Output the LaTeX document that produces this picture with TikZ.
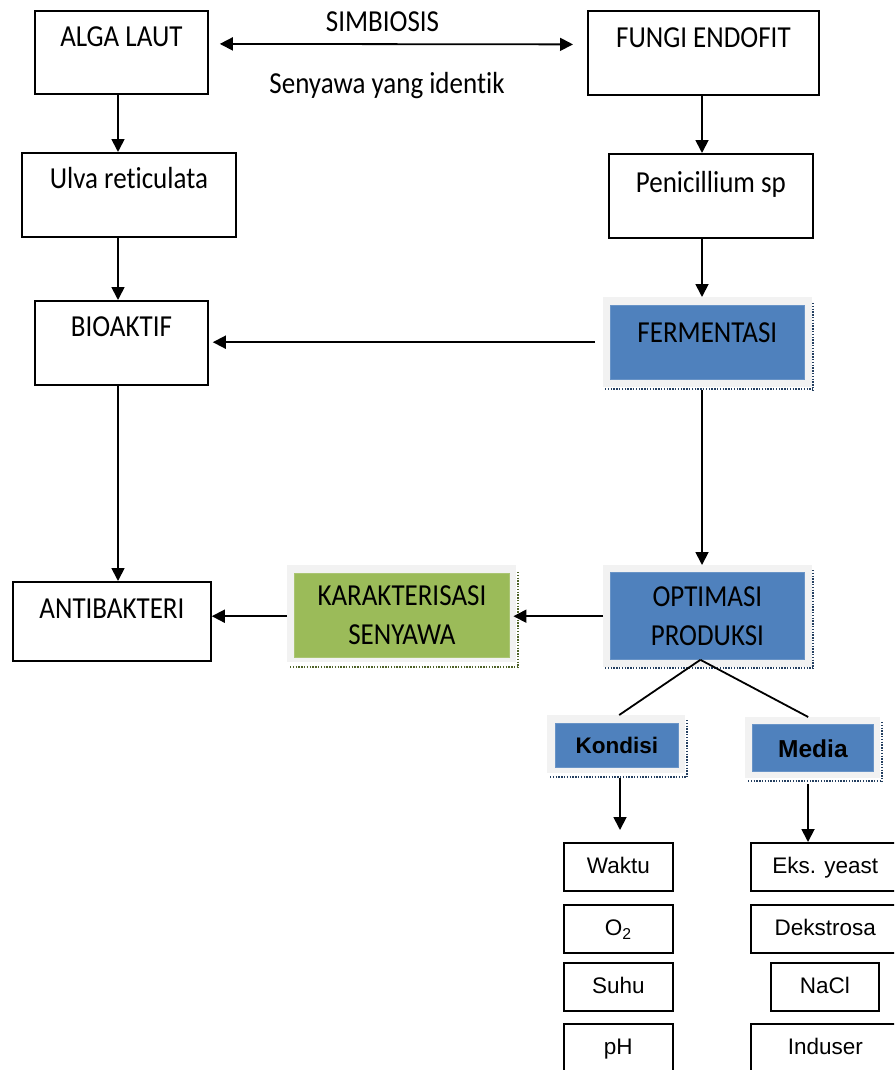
\documentclass[tikz,border=0pt]{standalone}
\usepackage{fontspec}
\setmainfont{Carlito}[RawFeature={-liga}]
\newfontfamily\arialf{Liberation Sans}
\usepackage{graphicx}
\usetikzlibrary{arrows.meta,calc}
\newcommand{\stt}[1]{\scalebox{1}[1.13]{#1}}
\definecolor{sblue}{HTML}{4F81BD}
\definecolor{sgray}{HTML}{F2F2F2}
\definecolor{sgreen}{HTML}{9BBB59}
\definecolor{dblue}{HTML}{243F60}
\definecolor{dgreen}{HTML}{4F6228}
\tikzset{
  cal/.style={font=\fontsize{27}{39}\selectfont},
  plainbox/.style={draw, line width=1.8pt, inner sep=0pt, anchor=north west, cal, align=center},
  shadowbg/.style={fill=sgray, draw=none, inner sep=0pt, anchor=north west},
  bluebox/.style={fill=sblue, draw=sblue!85!white, line width=0.8pt, inner sep=0pt, anchor=north west, align=center},
  greenbox/.style={fill=sgreen, draw=sgreen!85!white, line width=0.8pt, inner sep=0pt, anchor=north west, align=center},
  dotline/.style={line width=2.8pt, dash pattern=on 1.4pt off 1.4pt},
  smallbox/.style={draw, line width=1.6pt, inner sep=0pt, anchor=north west, text height=31pt, text depth=17pt, font=\arialf\fontsize{22.5}{26}\selectfont},
  conn/.style={line width=1.8pt},
  arr/.style={conn, -{Triangle[length=13pt,width=13pt]}},
  darr/.style={conn, {Triangle[length=13pt,width=13pt]}-{Triangle[length=13pt,width=13pt]}}
}
\begin{document}
\begin{tikzpicture}[x=1pt,y=-1pt]
\clip (0,0) rectangle (894,1070);
\fill[white] (0,0) rectangle (894,1070);

% plain boxes
\node[plainbox, minimum width=173pt, text height=36pt, text depth=47pt] (alga) at (34,10) {\stt{ALGA LAUT}};
\node[plainbox, minimum width=231pt, text height=37pt, text depth=47pt] (fungi) at (587,10) {\stt{FUNGI ENDOFIT}};
\node[plainbox, minimum width=214pt, text height=36pt, text depth=48pt] (ulva) at (21,152) {\stt{Ulva reticulata}};
\node[plainbox, minimum width=204pt, text height=39pt, text depth=45pt] (peni) at (608,153) {\stt{Penicillium sp}};
\node[plainbox, minimum width=173pt, text height=36pt, text depth=48pt] (bio) at (34,300) {\stt{BIOAKTIF}};
\node[plainbox, minimum width=198pt, text height=37pt, text depth=42pt] (anti) at (12,581) {\stt{ANTIBAKTERI}};

% labels
\node[cal, anchor=base, inner sep=0pt] (simb) at (382.5,32) {\stt{SIMBIOSIS}};
\node[cal, anchor=base, inner sep=0pt] (seny) at (387,94) {\stt{Senyawa yang identik}};

% FERMENTASI
\node[shadowbg, minimum width=209pt, minimum height=90pt] (fermout) at (603,297) {};
\draw[dotline, dblue] (813,303) -- (813,390);
\draw[dotline, dblue] (605,389) -- (813,389);
\node[bluebox, cal, minimum width=194pt, text height=37pt, text depth=37pt] (ferm) at (610,305) {\stt{FERMENTASI}};

% OPTIMASI PRODUKSI
\node[shadowbg, minimum width=209pt, minimum height=102pt] (optout) at (603,565) {};
\draw[dotline, dblue] (813,570) -- (813,669);
\draw[dotline, dblue] (605,668) -- (813,668);
\node[bluebox, cal, minimum width=194pt, minimum height=87pt] (opt) at (610,572) {\stt{OPTIMASI}\\\stt{PRODUKSI}};

% KARAKTERISASI SENYAWA
\node[shadowbg, minimum width=229pt, minimum height=97pt] (karout) at (287,565) {};
\draw[dotline, dgreen] (518,572) -- (518,668);
\draw[dotline, dgreen] (290,667) -- (518,667);
\node[greenbox, cal, minimum width=215pt, minimum height=84pt] (kar) at (294,573) {\stt{KARAKTERISASI}\\\stt{SENYAWA}};

% Kondisi
\node[shadowbg, minimum width=138pt, minimum height=58pt] (konout) at (547,715) {};
\draw[dotline, dblue] (687,720) -- (687,778);
\draw[dotline, dblue] (550,777) -- (687,777);
\node[bluebox, minimum width=123pt, text height=30pt, text depth=14pt, font=\arialf\bfseries\fontsize{22.5}{26}\selectfont] (kon) at (555,723) {Kondisi};

% Media
\node[shadowbg, minimum width=135pt, minimum height=61pt] (medout) at (745,717) {};
\draw[dotline, dblue] (882,722) -- (882,782);
\draw[dotline, dblue] (748,781) -- (882,781);
\node[bluebox, minimum width=121pt, text height=33pt, text depth=14pt, font=\arialf\bfseries\fontsize{24.5}{28}\selectfont] (med) at (752,724) {Media};

% small boxes
\node[smallbox, minimum width=109pt] (waktu) at (563,842) {Waktu};
\node[smallbox, minimum width=109pt] (o2) at (563,904) {O\textsubscript{2}};
\node[smallbox, minimum width=109pt] (suhu) at (563,962) {Suhu};
\node[smallbox, minimum width=109pt] (ph) at (563,1023) {pH};
\node[smallbox, minimum width=149pt] (eks) at (750,842) {Eks. yeast};
\node[smallbox, minimum width=149pt] (dek) at (750,904) {Dekstrosa};
\node[smallbox, minimum width=108pt] (nacl) at (770,962) {NaCl};
\node[smallbox, minimum width=149pt] (ind) at (750,1023) {Induser};

% helper coordinates
\coordinate (lx) at (118,0);
\coordinate (rx) at (702,0);
\coordinate (kt) at (620,830);
\coordinate (mx) at (808,0);

% connectors
\draw[darr] ([xshift=11pt,yshift=8.5pt]alga.east) -- ([xshift=-14pt,yshift=8.5pt]fungi.west);
\draw[arr] (alga.south -| lx) -- (ulva.north -| lx);
\draw[arr] (ulva.south -| lx) -- (bio.north -| lx);
\draw[arr] (bio.south -| lx) -- (anti.north -| lx);
\draw[arr] (fungi.south -| rx) -- (peni.north -| rx);
\draw[arr] (peni.south -| rx) -- (fermout.north -| rx);
\draw[arr] ([yshift=-3pt]fermout.south -| rx) -- (optout.north -| rx);
\draw[arr] ([xshift=-8pt]fermout.west) -- ($(bio.east |- fermout.west)+(4,0)$);
\draw[arr] (optout.west) -- ($(karout.east |- optout.west)+(-3,0)$);
\draw[arr] (karout.west |- optout.west) -- (anti.east |- optout.west);
\draw[conn] ([xshift=-7pt]opt.south) -- ([xshift=3pt]konout.north);
\draw[conn] ([xshift=-7pt]opt.south) -- ([xshift=-4.5pt]medout.north);
\draw[arr] ([yshift=-5pt]konout.south -| kt) -- (kt);
\draw[arr] ([yshift=-6pt]medout.south -| mx) -- (eks.north -| mx);
\end{tikzpicture}
\end{document}
